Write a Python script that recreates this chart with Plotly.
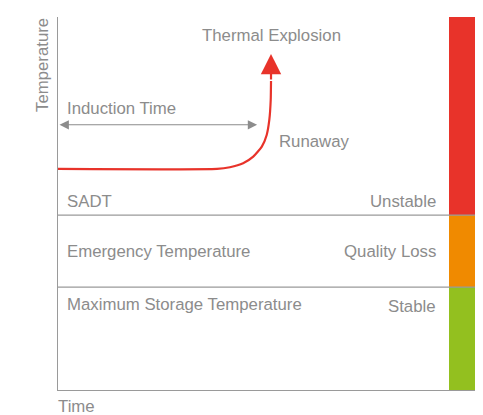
import plotly.graph_objects as go

# ---- data (schematic units: time 0-100, temperature 0-100) ----
zone_names = ["Stable", "Quality Loss", "Unstable"]
zone_bases = [0, 27.6, 46.9]
zone_heights = [27.6, 19.3, 53.1]
zone_colors = ["#93C01F", "#F08A00", "#E8332A"]

threshold_levels = [27.6, 46.9]

curve_time = [0, 40.8, 44.1, 47.5, 50.1, 52.3, 53.55, 54.22, 54.58, 54.66]
curve_temp = [59.26, 59.26, 59.72, 60.79, 62.56, 65.24, 68.38, 72.4, 77.76, 82.85]
explosion_point = (54.66, 90.1)

induction_start = 0
induction_end = 51.1
induction_level = 71.1

left_labels = ["SADT", "Emergency Temperature", "Maximum Storage Temperature"]
left_label_y = [50.6, 37.0, 22.8]
right_labels = ["Unstable", "Quality Loss", "Stable"]
right_label_y = [50.6, 37.1, 22.5]

GRAY = "#8c8c8c"
LINE_GRAY = "#9a9a9a"
FONT = "Liberation Sans, Arial, sans-serif"
FS = 16.8

fig = go.Figure()

# coloured zone bar on the right
fig.add_trace(go.Bar(
    x=[103.67] * len(zone_names), y=zone_heights, base=zone_bases,
    width=6.67, marker=dict(color=zone_colors, line=dict(width=0)),
    showlegend=False, hoverinfo="skip", name="zones"))

# red runaway curve
fig.add_trace(go.Scatter(
    x=curve_time, y=curve_temp, mode="lines",
    line=dict(color="#E8332A", width=2.2, shape="spline", smoothing=0.5),
    showlegend=False, hoverinfo="skip"))

shapes = []
for lv in threshold_levels:
    shapes.append(dict(type="line", xref="x", yref="y", x0=0, x1=107, y0=lv, y1=lv,
                       line=dict(color=LINE_GRAY, width=1.2), layer="above"))

ann = []
# explosion arrow head
ann.append(dict(x=explosion_point[0], y=explosion_point[1], xref="x", yref="y",
                ax=curve_time[-1], ay=curve_temp[-1], axref="x", ayref="y",
                showarrow=True, arrowhead=2, arrowsize=1.85, arrowwidth=2.2,
                arrowcolor="#E8332A", text="", standoff=0))
# induction time double arrow
ann.append(dict(x=induction_end, y=induction_level, xref="x", yref="y",
                ax=induction_start, ay=induction_level, axref="x", ayref="y",
                showarrow=True, arrowhead=2, startarrowhead=2, arrowside="end+start",
                arrowsize=1.7, startarrowsize=1.7, arrowwidth=1.1,
                arrowcolor=GRAY, text="", standoff=0, startstandoff=0))

def txt(text, x, y, xanchor="left", xref="x", yref="y", angle=0):
    ann.append(dict(text=text, x=x, y=y, xref=xref, yref=yref, showarrow=False,
                    xanchor=xanchor, yanchor="middle", textangle=angle,
                    font=dict(family=FONT, size=FS, color=GRAY)))

txt("Thermal Explosion", 54.7, 95.1, xanchor="center")
txt("Induction Time", 1.8, 75.6)
txt("Runaway", 56.3, 66.6)
for t, y in zip(left_labels, left_label_y):
    txt(t, 1.8, y)
for t, y in zip(right_labels, right_label_y):
    txt(t, 97.6, y, xanchor="right")

# axis titles placed as text
ann.append(dict(text="Temperature", x=42, y=65, xref="paper", yref="paper",
                showarrow=False, textangle=-90, xanchor="center", yanchor="middle",
                font=dict(family=FONT, size=FS, color=GRAY)))
ann.append(dict(text="Time", x=56, y=406, xref="paper", yref="paper",
                showarrow=False, xanchor="left", yanchor="middle",
                font=dict(family=FONT, size=FS, color=GRAY)))

# convert paper pixel positions for the two axis titles
W, H = 483, 415
L, R, T, B = 58, 8, 17, 25
pw, ph = W - L - R, H - T - B
for a in ann[-2:]:
    a["x"] = (a["x"] - L) / pw
    a["y"] = (H - B - a["y"]) / ph

fig.update_layout(
    width=W, height=H, margin=dict(l=L, r=R, t=T, b=B),
    paper_bgcolor="white", plot_bgcolor="white",
    shapes=shapes, annotations=ann, bargap=0,
    xaxis=dict(range=[0, 107], showgrid=False, zeroline=False, showticklabels=False,
               ticks="", showline=True, linecolor=LINE_GRAY, linewidth=1.2, fixedrange=True),
    yaxis=dict(range=[0, 100], showgrid=False, zeroline=False, showticklabels=False,
               ticks="", showline=True, linecolor=LINE_GRAY, linewidth=1.2, fixedrange=True),
)

fig.write_html("out.html", config={"displayModeBar": False},
               post_script="document.body.style.margin='0';document.body.style.overflow='hidden';")
